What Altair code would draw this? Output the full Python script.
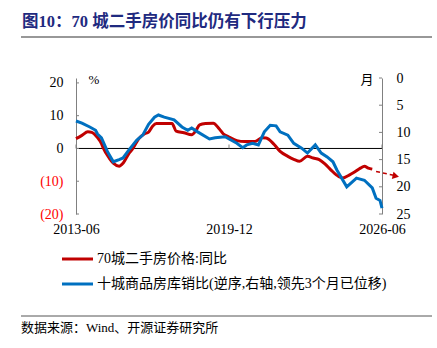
import altair as alt
import pandas as pd

# ---------------- data ----------------
red_dates = ["2013-06", "2013-09", "2013-12", "2014-02", "2014-05", "2014-07", "2014-08",
             "2014-11", "2015-01", "2015-04", "2015-06", "2015-09", "2015-11", "2016-02",
             "2016-05", "2016-07", "2016-09", "2016-11", "2017-07", "2017-09", "2018-01",
             "2018-05", "2018-07", "2018-09", "2018-12", "2019-04", "2019-07", "2019-09",
             "2019-12", "2020-04", "2020-08", "2021-01", "2021-05", "2021-07", "2021-11",
             "2022-02", "2022-06", "2022-09", "2022-12", "2023-04", "2023-07", "2023-10",
             "2024-01", "2024-04", "2024-08", "2024-10", "2025-01", "2025-04", "2025-07",
             "2025-09", "2025-11", "2026-01"]
red_values = [3.0, 4.0, 5.1, 4.9, 3.3, 1.5, 0.0,
              -3.0, -4.5, -5.4, -4.5, -1.5, 0.0, 3.0,
              4.5, 5.0, 6.8, 7.6, 7.6, 5.3, 4.8,
              4.2, 5.3, 7.2, 7.6, 7.7, 6.0, 4.5,
              3.5, 2.4, 2.1, 2.1, 3.3, 3.2, 1.2,
              -0.9, -2.4, -3.3, -3.9, -2.4, -2.9, -3.4,
              -4.8, -6.6, -8.6, -9.0, -8.2, -7.2, -6.0,
              -5.4, -6.0, -6.3]

blue_dates = ["2013-06", "2013-09", "2014-01", "2014-04", "2014-05", "2014-07", "2014-10",
              "2015-01", "2015-04", "2015-06", "2015-09", "2016-01", "2016-04", "2016-07",
              "2016-10", "2016-12", "2017-03", "2017-08", "2017-12", "2018-03", "2018-05",
              "2018-08", "2019-02", "2019-05", "2019-10", "2020-04", "2020-07", "2020-09",
              "2020-12", "2021-03", "2021-06", "2021-09", "2021-12", "2022-02", "2022-06",
              "2022-09", "2023-01", "2023-04", "2023-08", "2023-11", "2024-02", "2024-05",
              "2024-07", "2024-12", "2025-05", "2025-09", "2026-01", "2026-03", "2026-05",
              "2026-06"]
blue_values = [7.9, 8.3, 9.0, 9.6, 10.3, 11.0, 13.5,
               15.4, 15.0, 14.7, 13.2, 11.4, 10.5, 8.5,
               7.2, 6.8, 7.2, 7.7, 9.0, 9.6, 9.2,
               9.9, 11.2, 11.0, 10.8, 12.0, 12.8, 12.3,
               12.0, 12.3, 9.9, 8.7, 8.8, 9.9, 10.5,
               12.0, 12.9, 13.8, 12.3, 13.8, 14.5, 15.4,
               16.9, 20.0, 18.4, 18.8, 20.2, 22.1, 22.5,
               23.9]

x_label_dates = [(2013, 6), (2019, 12), (2026, 6)]
left_ticks = [-20, -10, 0, 10, 20]
right_ticks = [0, 5, 10, 15, 20, 25]
arrow_start = ("2026-03", -7.0)
arrow_end = ("2026-12", -8.2)
arrow_head = ("2027-01", -8.4)

title_text = "图10：70 城二手房价同比仍有下行压力"
legend_red = "70城二手房价格:同比"
legend_blue = "十城商品房库销比(逆序,右轴,领先3个月已位移)"
source_text = "数据来源：Wind、开源证券研究所"

RED = "#C00000"
BLUE = "#0070C0"
SERIF = "Liberation Serif, Noto Sans CJK SC"
W, H = 306, 136

def d(s):
    return s + "-01"

red_df = pd.DataFrame({"date": [d(s) for s in red_dates], "v": red_values})
blue_df = pd.DataFrame({"date": [d(s) for s in blue_dates], "w": blue_values})

xscale = alt.Scale(type="utc", domain=[alt.DateTime(year=2013, month=6, date=1, utc=True),
                                      alt.DateTime(year=2026, month=6, date=1, utc=True)])
xaxis = alt.Axis(title=None, format="%Y-%m", grid=False, domain=False, ticks=False,
                 labelFlush=False, labelPadding=8, labelFont="Liberation Serif",
                 labelFontSize=14, labelColor="black",
                 values=[alt.DateTime(year=y, month=m, date=1, utc=True) for y, m in x_label_dates])

def X(field):
    return alt.X(field, type="temporal", scale=xscale, axis=xaxis)

lscale = alt.Scale(domain=[-20, 21.5], nice=False, zero=False)
laxis = alt.Axis(title=None, orient="left", values=left_ticks, grid=False, ticks=False,
                 domainColor="#808080", domainWidth=1, labelPadding=13,
                 labelFont="Liberation Serif", labelFontSize=14,
                 labelExpr="datum.value < 0 ? '(' + abs(datum.value) + ')' : datum.value",
                 labelColor={"condition": {"test": "datum.value < 0", "value": "#FF0000"},
                             "value": "black"})

def YL(field):
    return alt.Y(field, type="quantitative", scale=lscale, axis=laxis)

rscale = alt.Scale(domain=[0, 25], reverse=True, nice=False, zero=False)
raxis = alt.Axis(title=None, orient="right", values=right_ticks, grid=False, ticks=False,
                 domainColor="#808080", domainWidth=1, labelPadding=14,
                 labelFont="Liberation Serif", labelFontSize=14, labelColor="black")

def YR(field):
    return alt.Y(field, type="quantitative", scale=rscale, axis=raxis)

zero_rule = alt.Chart(pd.DataFrame({"v": [0]})).mark_rule(color="black", strokeWidth=1).encode(y=YL("v"))

xt_df = pd.DataFrame({"date": ["%d-%02d-01" % (y, m) for y, m in x_label_dates],
                      "v": [0] * len(x_label_dates), "v2": [1.2] * len(x_label_dates)})
x_ticks = alt.Chart(xt_df).mark_rule(color="#808080", strokeWidth=1).encode(
    x=X("date"), y=YL("v"), y2="v2")

red_line = alt.Chart(red_df).mark_line(color=RED, strokeWidth=3, interpolate="monotone").encode(
    x=X("date"), y=YL("v"))

lt = alt.Chart(pd.DataFrame({"v": left_ticks})).mark_rule(color="#808080", strokeWidth=1).encode(
    x=alt.value(0), x2=alt.value(3), y=YL("v"))

arrow_df = pd.DataFrame({"date": [d(arrow_start[0])], "v": [arrow_start[1]],
                         "date2": [d(arrow_end[0])], "v2": [arrow_end[1]]})
arrow_line = alt.Chart(arrow_df).mark_rule(color=RED, strokeWidth=1.5, strokeDash=[4, 3]).encode(
    x=X("date"), y=YL("v"), x2="date2", y2="v2")
head_df = pd.DataFrame({"date": [d(arrow_head[0])], "v": [arrow_head[1]]})
arrow_tip = alt.Chart(head_df).mark_point(shape="triangle-right", filled=True, size=55, angle=13,
                                          color=RED, opacity=1).encode(x=X("date"), y=YL("v"))

left = alt.layer(zero_rule, x_ticks, red_line, lt, arrow_line, arrow_tip)

blue_line = alt.Chart(blue_df).mark_line(color=BLUE, strokeWidth=3).encode(x=X("date"), y=YR("w"))
rt = alt.Chart(pd.DataFrame({"w": right_ticks})).mark_rule(color="#808080", strokeWidth=1).encode(
    x=alt.value(W - 3), x2=alt.value(W), y=YR("w"))
right = alt.layer(blue_line, rt)

def text(t, x, y, size, color="black", weight="normal", font=SERIF, align="left"):
    return alt.Chart(pd.DataFrame({"t": [t]})).mark_text(
        align=align, baseline="middle", fontSize=size, font=font, fontWeight=weight, color=color
    ).encode(x=alt.value(x), y=alt.value(y), text="t:N")

def hline(x1, x2, y, color, width):
    return alt.Chart(pd.DataFrame({"a": [0]})).mark_rule(color=color, strokeWidth=width).encode(
        x=alt.value(x1), x2=alt.value(x2), y=alt.value(y))

ann = [
    text(title_text, -54, -56, 16.5, color="#1F2A80", weight="bold"),
    hline(-55, 356, -41, "#333333", 1.2),
    text("%", 18, 2, 13, font="Liberation Serif", align="center"),
    text("月", 291, 2, 13, font="Noto Sans CJK SC", align="center"),
    hline(-14, 17, 181, RED, 3),
    text(legend_red, 21, 181, 14),
    hline(-14, 17, 206, BLUE, 3),
    text(legend_blue, 21, 206, 14),
    hline(-55, 356, 238, "#555555", 1),
    text(source_text, -55, 250, 13),
]

chart = alt.layer(left, right, *ann).resolve_scale(y="independent").properties(
    width=W, height=H,
    padding={"left": 76, "top": 78, "right": 55, "bottom": 134},
    autosize=alt.AutoSizeParams(type="none"),
    background="white",
).configure_view(stroke=None)

chart.save("out.html", embed_options={"renderer": "svg", "actions": False})
